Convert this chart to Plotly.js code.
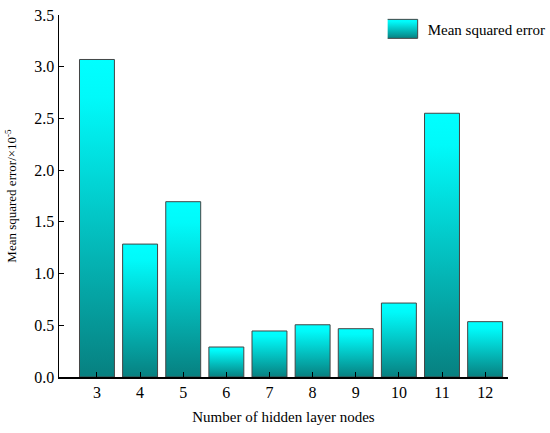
<!DOCTYPE html>
<html><head><meta charset="utf-8">
<script src="https://cdn.plot.ly/plotly-3.0.1.min.js"></script>
<style>html,body{margin:0;padding:0;background:#fff}#chart{width:550px;height:433px}</style>
</head><body><div id="chart"></div>
<script>
const nodes = [3,4,5,6,7,8,9,10,11,12];
const mse = [3.07,1.285,1.695,0.29,0.445,0.505,0.467,0.715,2.55,0.535];
const yTicks = [0,0.5,1,1.5,2,2.5,3,3.5];
const yTickText = ['0.0','0.5','1.0','1.5','2.0','2.5','3.0','3.5'];
const seriesName = 'Mean squared error';

const trace = {
  type:'bar', x:nodes, y:mse, width:0.81, name:seriesName,
  marker:{color:'#00cccc', line:{color:'#444', width:1}},
  hoverinfo:'skip', showlegend:true
};
const layout = {
  width:550, height:433,
  margin:{l:59, r:42, t:15, b:56, autoexpand:false},
  paper_bgcolor:'#fff', plot_bgcolor:'#fff',
  font:{family:'"Liberation Serif", "Times New Roman", serif', color:'#000', size:14},
  xaxis:{range:[2.12,12.53], tickvals:nodes, ticktext:nodes.map(String), ticks:'inside', ticklen:5, tickcolor:'#000',
    showline:true, linecolor:'#000', linewidth:1.5, showgrid:false, zeroline:false, tickfont:{size:16},
    title:{text:'Number of hidden layer nodes', font:{size:15}, standoff:12}},
  yaxis:{range:[0,3.5], tickvals:yTicks, ticktext:yTickText, ticks:'inside', ticklen:5, tickcolor:'#000',
    showline:true, linecolor:'#000', linewidth:1.5, showgrid:false, zeroline:false, tickfont:{size:16},
    title:{text:'Mean squared error/×10<sup>-5</sup>', font:{size:13}, standoff:14}},
  showlegend:true,
  legend:{x:0.732, y:0.961, xanchor:'left', yanchor:'middle', bgcolor:'rgba(0,0,0,0)', font:{size:15}}
};
function styleMarks(gd){
  const svg = gd.querySelector('svg.main-svg');
  const ns='http://www.w3.org/2000/svg';
  if(!svg.querySelector('#barGrad')){
    const defs = svg.querySelector('defs');
    const lg = document.createElementNS(ns,'linearGradient');
    lg.setAttribute('id','barGrad'); lg.setAttribute('x1','0'); lg.setAttribute('y1','0'); lg.setAttribute('x2','0'); lg.setAttribute('y2','1');
    [['0','#00ffff'],['0.12','#00fafa'],['1','#078080']].forEach(([o,c])=>{
      const s=document.createElementNS(ns,'stop'); s.setAttribute('offset',o); s.setAttribute('stop-color',c); lg.appendChild(s);
    });
    defs.appendChild(lg);
  }
  gd.querySelectorAll('.bars .point path').forEach(p=>{p.style.fill='url(#barGrad)';});
  gd.querySelectorAll('.legendpoints path').forEach(p=>{
    p.setAttribute('d','M10,-9.5H-28V9.5H10Z');
    p.style.fill='url(#barGrad)'; p.style.stroke='#444'; p.style.strokeWidth='1px';
  });
}
Plotly.newPlot('chart',[trace],layout,{staticPlot:true}).then(gd=>{
  styleMarks(gd);
  gd.on('plotly_afterplot',()=>styleMarks(gd));
});
</script></body></html>
